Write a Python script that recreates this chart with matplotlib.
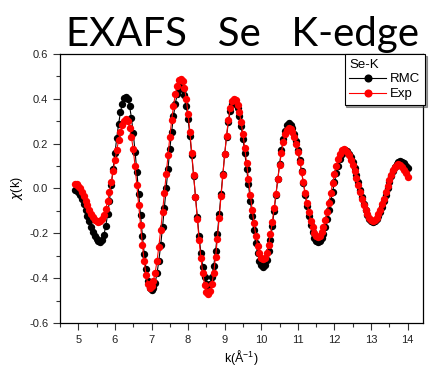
import numpy as np
import matplotlib
matplotlib.use("Agg")
import matplotlib.pyplot as plt
from matplotlib.ticker import MultipleLocator

# k grid of the chi(k) data, 0.05 A^-1 spacing
k_start, k_stop, n_pts = 4.90, 14.00, 183

chi_exp = [
    0.022, 0.020, 0.012, 0.000, -0.015, -0.034, -0.054, -0.074, -0.094, -0.113,
    -0.128, -0.140, -0.147, -0.150,
    -0.147, -0.138, -0.118, -0.090, -0.056, -0.016, 0.030, 0.077, 0.125, 0.172,
    0.215, 0.253, 0.283, 0.303, 0.312,
    0.301, 0.272, 0.230, 0.175, 0.100, 0.015, -0.075, -0.165, -0.250, -0.325,
    -0.385, -0.428, -0.445,
    -0.437, -0.413, -0.375, -0.323, -0.259, -0.186, -0.106, -0.021, 0.066, 0.151,
    0.231, 0.304, 0.368, 0.420, 0.458, 0.482, 0.490,
    0.480, 0.449, 0.398, 0.331, 0.250, 0.158, 0.060, -0.040, -0.138, -0.230,
    -0.311, -0.378, -0.429, -0.460, -0.470,
    -0.459, -0.427, -0.375, -0.306, -0.224, -0.132, -0.035, 0.062, 0.154, 0.236,
    0.305, 0.357, 0.389, 0.400,
    0.393, 0.373, 0.340, 0.295, 0.241, 0.179, 0.112, 0.043, -0.027, -0.094,
    -0.156, -0.210, -0.255, -0.288, -0.308, -0.315,
    -0.308, -0.286, -0.251, -0.205, -0.149, -0.088, -0.023, 0.043, 0.104, 0.160,
    0.206, 0.241, 0.263, 0.270,
    0.265, 0.252, 0.229, 0.199, 0.162, 0.120, 0.075, 0.028, -0.020, -0.065,
    -0.107, -0.144, -0.174, -0.197, -0.210, -0.215,
    -0.210, -0.196, -0.172, -0.142, -0.105, -0.063, -0.020, 0.023, 0.065, 0.102,
    0.132, 0.156, 0.170, 0.175,
    0.172, 0.163, 0.148, 0.128, 0.104, 0.077, 0.047, 0.016, -0.015, -0.045,
    -0.072, -0.096, -0.116, -0.131, -0.140, -0.143,
    -0.140, -0.131, -0.115, -0.095, -0.071, -0.045, -0.017, 0.012, 0.038, 0.062,
    0.082, 0.098, 0.107, 0.110,
    0.106, 0.097, 0.084, 0.068, 0.050,
]

chi_rmc = [
    -0.005, -0.008, -0.017, -0.030, -0.049, -0.071, -0.096, -0.122, -0.147, -0.172,
    -0.194, -0.213, -0.227, -0.235, -0.238,
    -0.230, -0.206, -0.167, -0.116, -0.055, 0.014, 0.086, 0.158, 0.227, 0.288,
    0.339, 0.378, 0.402, 0.410,
    0.399, 0.367, 0.316, 0.247, 0.165, 0.074, -0.023, -0.119, -0.210, -0.292,
    -0.361, -0.412, -0.444, -0.455,
    -0.446, -0.420, -0.378, -0.322, -0.253, -0.174, -0.089, 0.000, 0.089, 0.174,
    0.253, 0.322, 0.378, 0.420, 0.446, 0.455,
    0.445, 0.417, 0.370, 0.308, 0.233, 0.148, 0.057, -0.037, -0.128, -0.213,
    -0.288, -0.350, -0.397, -0.425, -0.435,
    -0.425, -0.394, -0.346, -0.281, -0.203, -0.116, -0.025, 0.066, 0.153, 0.231,
    0.296, 0.344, 0.375, 0.385,
    0.378, 0.357, 0.323, 0.277, 0.222, 0.158, 0.089, 0.018, -0.054, -0.123,
    -0.187, -0.242, -0.288, -0.322, -0.343, -0.350,
    -0.342, -0.318, -0.280, -0.230, -0.169, -0.101, -0.030, 0.041, 0.109, 0.170,
    0.220, 0.258, 0.282, 0.290,
    0.285, 0.270, 0.245, 0.212, 0.172, 0.126, 0.077, 0.025, -0.027, -0.076,
    -0.122, -0.162, -0.195, -0.220, -0.235, -0.240,
    -0.236, -0.222, -0.201, -0.172, -0.138, -0.098, -0.056, -0.014, 0.028, 0.068,
    0.102, 0.131, 0.152, 0.166, 0.170,
    0.167, 0.156, 0.140, 0.117, 0.091, 0.060, 0.028, -0.006, -0.038, -0.069,
    -0.095, -0.118, -0.134, -0.145, -0.148,
    -0.145, -0.136, -0.122, -0.103, -0.081, -0.055, -0.027, 0.001, 0.029, 0.055,
    0.077, 0.096, 0.110, 0.119, 0.122,
    0.119, 0.112, 0.102, 0.090,
]

k = np.linspace(k_start, k_stop, n_pts)

plt.rcParams["font.family"] = ["Liberation Sans", "DejaVu Sans"]

fig = plt.figure(figsize=(4.29, 3.66), dpi=100)
ax = fig.add_axes([0.140, 0.1175, 0.846, 0.735])

ax.plot(k, chi_rmc, "-o", color="black", lw=0.8, ms=5.3, mew=0, label="RMC")
ax.plot(k, chi_exp, "-o", color="red", lw=0.8, ms=5.3, mew=0, label="Exp")

ax.set_xlim(4.5, 14.42)
ax.set_ylim(-0.6, 0.6)
ax.xaxis.set_major_locator(MultipleLocator(1))
ax.xaxis.set_minor_locator(MultipleLocator(0.5))
ax.yaxis.set_major_locator(MultipleLocator(0.2))
ax.yaxis.set_minor_locator(MultipleLocator(0.1))
ax.yaxis.set_major_formatter(matplotlib.ticker.FormatStrFormatter("%.1f"))
ax.tick_params(which="both", direction="out", top=False, right=False,
               labelsize=8, width=0.8, color="#333333", labelcolor="#222222")
ax.tick_params(which="major", length=5)
ax.tick_params(which="minor", length=3)
for s in ax.spines.values():
    s.set_linewidth(0.9)

ax.set_xlabel(r"k($\mathregular{\AA^{-1}}$)", fontsize=9, labelpad=2)
ax.set_ylabel(r"$\chi$(k)", fontsize=9, labelpad=3)

leg = ax.legend(title="Se-K", loc="upper right", bbox_to_anchor=(1.006, 1.0),
                borderaxespad=0, fontsize=9.5, title_fontsize=9.5, fancybox=False,
                shadow={"ox": 1.2, "oy": -1.2, "color": "0.25"},
                handlelength=2.8, handletextpad=0.3,
                borderpad=0.35, labelspacing=0.2, markerscale=1.1)
leg._legend_box.align = "left"
leg.get_frame().set_edgecolor("black")
leg.get_frame().set_linewidth(0.8)

fig.text(0.565, 1 - 46 / 366, "EXAFS   Se   K-edge", ha="center",
         va="baseline", fontsize=29, family=["Lato", "DejaVu Sans"])

fig.savefig("out.png", dpi=100)
